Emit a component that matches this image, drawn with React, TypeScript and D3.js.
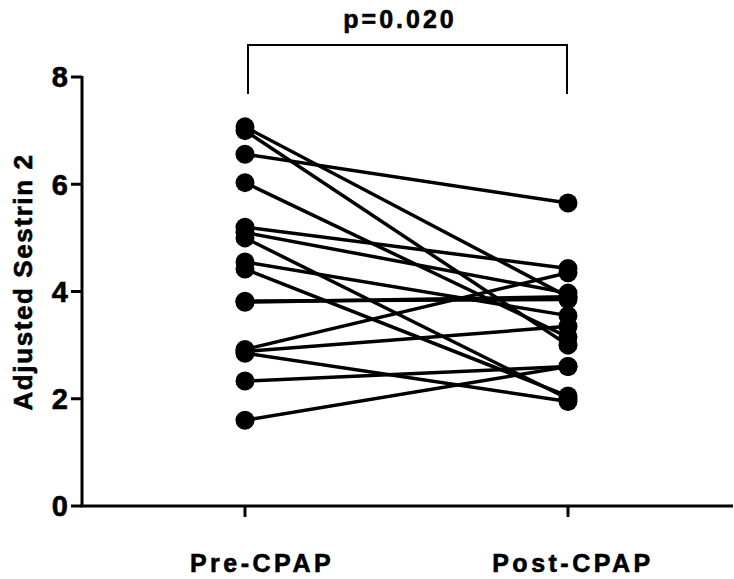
import React from "react";
import * as d3 from "d3";

const groups = ["Pre-CPAP", "Post-CPAP"];
const preValues = [7.07, 7.0, 6.56, 6.03, 5.2, 5.1, 5.0, 4.55, 4.42, 3.82, 3.8, 2.92, 2.88, 2.85, 2.33, 1.6];
const postValues = [3.9, 3.0, 5.65, 3.15, 4.43, 3.97, 2.0, 3.55, 2.05, 3.85, 3.9, 4.35, 3.35, 1.95, 2.6, 2.6];
const yTicks = [0, 2, 4, 6, 8];
const yLabel = "Adjusted Sestrin 2";
const pLabel = "p=0.020";

const W = 734;
const H = 579;

export default function App() {
  const y = d3.scaleLinear().domain([0, 8]).range([506, 77]);
  const x = d3.scalePoint<string>().domain(groups).range([245, 568]);
  const axisX = 82;
  const font = "'Liberation Sans', Arial, sans-serif";
  const textStroke = { stroke: "#000", strokeWidth: 0.6 };
  const line = d3
    .line<[string, number]>()
    .x((d) => x(d[0]) as number)
    .y((d) => y(d[1]));
  const pairs = preValues.map((v, i) => [[groups[0], v], [groups[1], postValues[i]]] as [string, number][]);
  const bracketTop = 45;
  const bracketBottom = 94;
  const x0 = x(groups[0]) as number;
  const x1 = x(groups[1]) as number;
  return (
    <svg width={W} height={H} style={{ position: "absolute", left: 0, top: 0, background: "#fff" }}>
      {/* y axis */}
      <line x1={axisX} x2={axisX} y1={y(8) - 1} y2={y(0)} stroke="#000" strokeWidth={3} />
      {yTicks.map((t) => (
        <g key={t}>
          <line x1={axisX - 11} x2={axisX} y1={y(t)} y2={y(t)} stroke="#000" strokeWidth={3} />
          <text
            x={axisX - 14}
            y={y(t)}
            dy="0.36em"
            textAnchor="end"
            fontFamily={font}
            fontWeight="bold"
            fontSize={29}
            {...textStroke}
          >
            {t}
          </text>
        </g>
      ))}
      {/* x axis */}
      <line x1={axisX - 1.5} x2={733} y1={y(0)} y2={y(0)} stroke="#000" strokeWidth={3} />
      {groups.map((g, i) => (
        <g key={g}>
          <line x1={x(g)} x2={x(g)} y1={y(0)} y2={y(0) + 11} stroke="#000" strokeWidth={3} />
          <text
            x={(x(g) as number) + (i === 0 ? 17 : 5)}
            y={572}
            textAnchor="middle"
            fontFamily={font}
            fontWeight="bold"
            fontSize={25}
            letterSpacing={3.5}
            {...textStroke}
          >
            {g}
          </text>
        </g>
      ))}
      {/* y label */}
      <text
        transform={`translate(32, ${282}) rotate(-90)`}
        textAnchor="middle"
        fontFamily={font}
        fontWeight="bold"
        fontSize={26}
        letterSpacing={1.6}
        {...textStroke}
      >
        {yLabel}
      </text>
      {/* paired lines */}
      {pairs.map((p, i) => (
        <path key={i} d={line(p) || ""} fill="none" stroke="#000" strokeWidth={3.5} />
      ))}
      {pairs.map((p, i) =>
        p.map((d, j) => (
          <circle key={`${i}-${j}`} cx={x(d[0])} cy={y(d[1])} r={9.5} fill="#000" />
        ))
      )}
      {/* bracket */}
      <path
        d={`M${x0 + 3},${bracketBottom}V${bracketTop}H${x1 - 1}V${bracketBottom}`}
        fill="none"
        stroke="#000"
        strokeWidth={2}
      />
      <text
        x={400}
        y={28}
        textAnchor="middle"
        fontFamily={font}
        fontWeight="bold"
        fontSize={25}
        letterSpacing={3}
        {...textStroke}
      >
        {pLabel}
      </text>
    </svg>
  );
}
